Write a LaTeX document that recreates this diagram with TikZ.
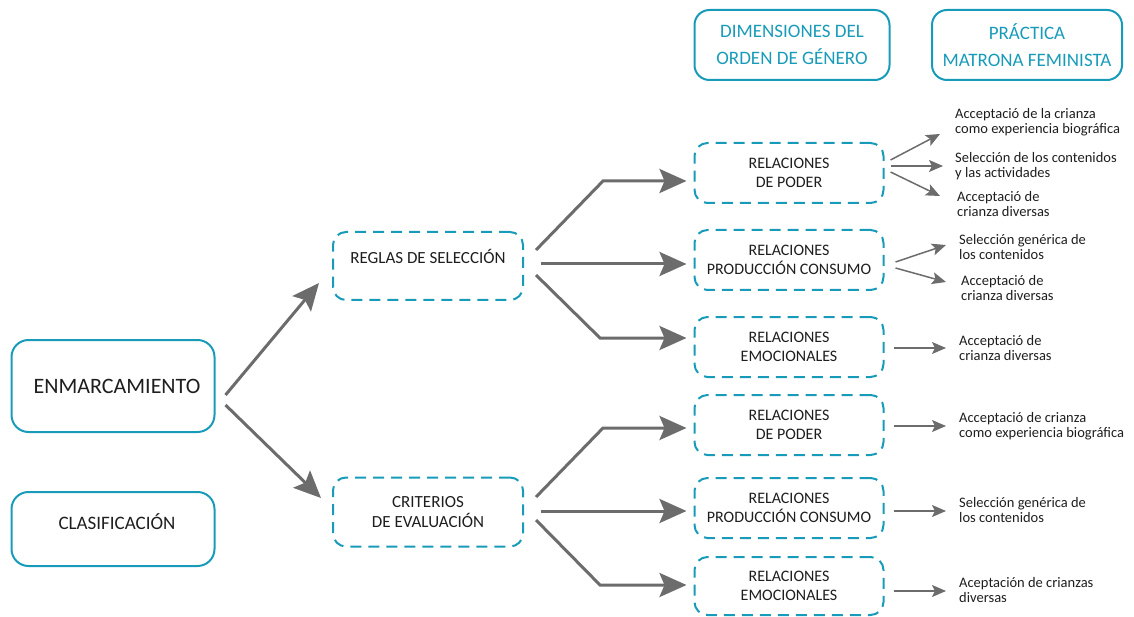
\documentclass[tikz,border=0pt]{standalone}
\usepackage{fontspec}
\setmainfont{Carlito}
\usetikzlibrary{arrows.meta}
\definecolor{frameteal}{RGB}{24,155,185}
\definecolor{arrowgray}{RGB}{108,108,108}
\definecolor{textdark}{RGB}{30,30,30}
\begin{document}
\begin{tikzpicture}[x=1pt, y=-1pt]
    % Define styles
    \tikzset{
        mainbox/.style={draw=frameteal, line width=2pt, rounded corners=17pt, minimum width=203pt, text=textdark, align=center},
        headbox/.style={draw=frameteal, line width=2pt, rounded corners=15pt, minimum height=70pt, text=frameteal, align=center, font=\fontsize{19}{27}\selectfont},
        rulebox/.style={draw=frameteal, line width=2pt, dash pattern=on 11pt off 7pt, rounded corners=13pt, minimum width=190pt, text=textdark, align=center, font=\fontsize{17}{20}\selectfont},
        relbox/.style={draw=frameteal, line width=2pt, dash pattern=on 11pt off 7pt, rounded corners=13pt, minimum width=189pt, minimum height=60pt, text=textdark, align=center, font=\fontsize{16}{19}\selectfont},
        practice/.style={anchor=west, inner sep=0pt, align=left, text=textdark, font=\fontsize{14.5}{15}\selectfont},
        bigarrow/.style={-{Stealth[length=27pt, width=24pt, inset=5pt]}, draw=arrowgray, line width=3pt},
        smallarrow/.style={-{Stealth[length=14pt, width=12pt, inset=3pt]}, draw=arrowgray, line width=1.5pt}
    }

    \useasboundingbox (0,0) rectangle (1134,617);

    % Column headers
    \node[headbox, minimum width=195pt] (dimens) at (792,45) {DIMENSIONES DEL\\ORDEN DE GÉNERO};
    \node[headbox, minimum width=190pt] (practica) at (1027,45) {PRÁCTICA\\MATRONA FEMINISTA};

    % Left column
    \node[mainbox, minimum height=92pt, font=\fontsize{22}{25}\selectfont] (enmarc) at (113,386) {\hspace{8pt}ENMARCAMIENTO};
    \node[mainbox, minimum height=74pt, font=\fontsize{19}{23}\selectfont] (clasif) at (113,529) {\hspace{8pt}CLASIFICACIÓN\\[-8pt]\mbox{}};

    % Rules
    \node[rulebox, minimum height=68pt] (reglas) at (428,266) {REGLAS DE SELECCIÓN\\\mbox{}};
    \node[rulebox, minimum height=69pt] (criter) at (428,512) {CRITERIOS\\DE EVALUACIÓN};

    % Dimensions of gender order
    \node[relbox] (rpod1) at (789,173) {RELACIONES\\DE PODER};
    \node[relbox] (rprod1) at (789,260) {RELACIONES\\PRODUCCIÓN CONSUMO};
    \node[relbox] (remo1) at (789,347) {RELACIONES\\EMOCIONALES};
    \node[relbox] (rpod2) at (789,425) {RELACIONES\\DE PODER};
    \node[relbox] (rprod2) at (789,508) {RELACIONES\\PRODUCCIÓN CONSUMO};
    \node[relbox, minimum height=58pt] (remo2) at (789,586) {RELACIONES\\EMOCIONALES};

    % Feminist midwife practice
    \node[practice] (acc1) at (955,122) {Acceptació de la crianza\\como experiencia biográfica};
    \node[practice] (sel1) at (955,166) {Selección de los contenidos\\y las actividades};
    \node[practice] (acc2) at (957,204) {Acceptació de\\crianza diversas};
    \node[practice] (sel2) at (959,247) {Selección genérica de\\los contenidos};
    \node[practice] (acc3) at (961,288) {Acceptació de\\crianza diversas};
    \node[practice] (acc4) at (959,348) {Acceptació de\\crianza diversas};
    \node[practice] (acc5) at (959,426) {Acceptació de crianza\\como experiencia biográfica};
    \node[practice] (sel3) at (959,510) {Selección genérica de\\los contenidos};
    \node[practice] (acc6) at (959,590) {Aceptación de crianzas\\diversas};

    % Bends
    \coordinate (b1) at (603,181);
    \coordinate (b2) at (600,338);
    \coordinate (b3) at (603,428);
    \coordinate (b4) at (600,585);

    % Arrows from framing
    \draw[bigarrow] ([shift={(10,9)}]enmarc.east) -- ([shift={(-13,17)}]reglas.west);
    \draw[bigarrow] ([shift={(10,19)}]enmarc.east) -- ([shift={(-11,-14)}]criter.west);

    % Arrows from rules
    \draw[bigarrow] ([shift={(12,-16)}]reglas.east) -- (b1) -- ([shift={(-7,8)}]rpod1.west);
    \draw[bigarrow] ([shift={(17,-2)}]reglas.east) -- ([shift={(-7,4)}]rprod1.west);
    \draw[bigarrow] ([shift={(12,9)}]reglas.east) -- (b2) -- ([shift={(-7,-9)}]remo1.west);
    \draw[bigarrow] ([shift={(12,-15)}]criter.east) -- (b3) -- ([shift={(-7,3)}]rpod2.west);
    \draw[bigarrow] ([shift={(17,-1)}]criter.east) -- ([shift={(-7,3)}]rprod2.west);
    \draw[bigarrow] ([shift={(12,8)}]criter.east) -- (b4) -- ([shift={(-7,-1)}]remo2.west);

    % Arrows to practice
    \draw[smallarrow] ([shift={(6,-13)}]rpod1.east) -- ([shift={(-15,12)}]acc1.west);
    \draw[smallarrow] ([shift={(6,-7)}]rpod1.east) -- ([shift={(-12,0)}]sel1.west);
    \draw[smallarrow] ([shift={(6,-1)}]rpod1.east) -- ([shift={(-17,-8)}]acc2.west);
    \draw[smallarrow] ([shift={(11,2)}]rprod1.east) -- ([shift={(-13,-2)}]sel2.west);
    \draw[smallarrow] ([shift={(11,8)}]rprod1.east) -- ([shift={(-15,-6)}]acc3.west);
    \draw[smallarrow] ([shift={(9,1)}]remo1.east) -- ([shift={(-13,0)}]acc4.west);
    \draw[smallarrow] ([shift={(9,1)}]rpod2.east) -- ([shift={(-13,0)}]acc5.west);
    \draw[smallarrow] ([shift={(9,3)}]rprod2.east) -- ([shift={(-13,1)}]sel3.west);
    \draw[smallarrow] ([shift={(9,5)}]remo2.east) -- ([shift={(-13,1)}]acc6.west);

\end{tikzpicture}
\end{document}
